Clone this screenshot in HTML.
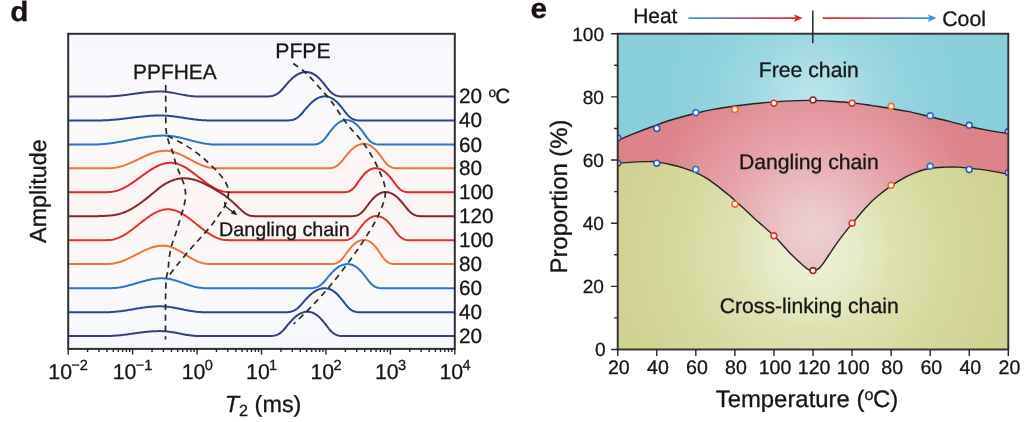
<!DOCTYPE html><html><head><meta charset="utf-8"><title>fig</title><style>html,body{margin:0;padding:0;background:#fff;overflow:hidden}svg{display:block;will-change:transform;opacity:0.999}text{font-family:"Liberation Sans",sans-serif;fill:#161616;stroke:#161616;stroke-width:0.3px;text-rendering:geometricPrecision}</style></head><body>
<svg width="1024" height="422" viewBox="0 0 1024 422">
<defs>
<linearGradient id="bgL" x1="0" y1="0" x2="0" y2="1">
<stop offset="0" stop-color="#f6f7fc"/><stop offset="0.15" stop-color="#f9f9fc"/><stop offset="0.3" stop-color="#faf8f9"/><stop offset="0.55" stop-color="#fcf4f3"/><stop offset="0.75" stop-color="#faf8f9"/><stop offset="0.9" stop-color="#f8f9fc"/><stop offset="1" stop-color="#f5f7fb"/>
</linearGradient>
<linearGradient id="hc1" gradientUnits="userSpaceOnUse" x1="688" y1="0" x2="802" y2="0"><stop offset="0" stop-color="#2f9be0"/><stop offset="0.4" stop-color="#7a6cb4"/><stop offset="0.75" stop-color="#dc3450"/><stop offset="1" stop-color="#e02a2c"/></linearGradient>
<linearGradient id="hc2" gradientUnits="userSpaceOnUse" x1="822" y1="0" x2="936" y2="0"><stop offset="0" stop-color="#e02a2c"/><stop offset="0.3" stop-color="#d83a58"/><stop offset="0.62" stop-color="#7a6cb4"/><stop offset="1" stop-color="#2f9be0"/></linearGradient>
<radialGradient id="gC" gradientUnits="userSpaceOnUse" cx="813" cy="104" r="200"><stop offset="0" stop-color="#bfe6ed"/><stop offset="0.15" stop-color="#b1e0e9"/><stop offset="0.32" stop-color="#9dd8e3"/><stop offset="0.52" stop-color="#90d2df"/><stop offset="0.75" stop-color="#8acfdc"/><stop offset="1" stop-color="#88cedb"/></radialGradient>
<radialGradient id="gP" gradientUnits="userSpaceOnUse" cx="813" cy="230" r="195"><stop offset="0" stop-color="#eecfd0"/><stop offset="0.12" stop-color="#ecc8ca"/><stop offset="0.45" stop-color="#e6a5ab"/><stop offset="0.85" stop-color="#dd858b"/><stop offset="1" stop-color="#dc8288"/></radialGradient>
<radialGradient id="gY" gradientUnits="userSpaceOnUse" cx="813" cy="252" r="200"><stop offset="0" stop-color="#eef1d9"/><stop offset="0.2" stop-color="#e8ecca"/><stop offset="0.4" stop-color="#dee2b1"/><stop offset="0.675" stop-color="#d6d99d"/><stop offset="0.95" stop-color="#d0d391"/><stop offset="1" stop-color="#cfd290"/></radialGradient>
<clipPath id="clipL"><rect x="68.2" y="33.8" width="386.6" height="315.1"/></clipPath>
<clipPath id="clipR"><rect x="617.7" y="33.7" width="390.6" height="315.8"/></clipPath>
</defs>
<rect x="68.2" y="33.8" width="386.6" height="315.1" fill="url(#bgL)"/>
<g clip-path="url(#clipL)" fill="none" stroke-width="2" stroke-linejoin="round">
<path d="M68.2 96.50 L90.7 96.49 L95.7 96.49 L99.5 96.48 L102.0 96.48 L104.5 96.47 L105.7 96.46 L107.0 96.44 L108.2 96.42 L109.5 96.38 L110.7 96.33 L112.0 96.26 L113.2 96.19 L114.5 96.11 L115.7 96.01 L117.0 95.91 L118.2 95.80 L119.5 95.68 L120.7 95.55 L122.0 95.41 L123.2 95.27 L124.5 95.11 L125.7 94.96 L127.0 94.79 L128.2 94.63 L129.4 94.46 L130.7 94.28 L131.9 94.11 L133.2 93.93 L134.4 93.76 L135.7 93.58 L136.9 93.41 L138.2 93.24 L139.4 93.07 L140.7 92.91 L141.9 92.75 L143.2 92.60 L144.4 92.45 L145.7 92.31 L146.9 92.19 L148.2 92.07 L149.4 91.96 L150.7 91.86 L151.9 91.77 L153.2 91.70 L154.4 91.63 L155.7 91.58 L156.9 91.54 L158.2 91.52 L159.4 91.50 L160.7 91.51 L161.9 91.54 L163.2 91.60 L164.4 91.68 L165.7 91.79 L166.9 91.92 L168.2 92.08 L169.4 92.25 L170.7 92.45 L171.9 92.66 L173.2 92.88 L174.4 93.12 L175.7 93.36 L176.9 93.61 L178.2 93.87 L179.4 94.12 L180.7 94.38 L181.9 94.62 L183.2 94.86 L184.4 95.09 L185.7 95.31 L186.9 95.51 L188.2 95.70 L189.4 95.87 L190.7 96.02 L191.9 96.15 L193.2 96.26 L194.4 96.35 L195.7 96.41 L196.9 96.45 L198.2 96.47 L199.4 96.47 L200.7 96.48 L203.2 96.49 L205.7 96.49 L210.7 96.50 L265.7 96.50 L266.9 96.49 L268.2 96.44 L269.4 96.35 L270.7 96.21 L271.9 95.99 L273.2 95.67 L274.4 95.25 L275.7 94.70 L276.9 94.01 L278.2 93.17 L279.4 92.16 L280.7 91.00 L281.9 89.70 L283.2 88.27 L284.4 86.79 L285.7 85.29 L286.9 83.85 L288.2 82.48 L289.4 81.16 L290.7 79.86 L291.9 78.64 L293.2 77.55 L294.4 76.56 L295.7 75.65 L296.9 74.83 L298.2 74.12 L299.4 73.52 L300.7 73.02 L301.9 72.63 L303.2 72.35 L304.4 72.15 L305.7 72.04 L306.9 72.05 L308.2 72.18 L309.4 72.42 L310.7 72.77 L311.9 73.24 L313.2 73.84 L314.4 74.57 L315.7 75.43 L316.9 76.40 L318.2 77.47 L319.4 78.66 L320.7 80.00 L321.9 81.41 L323.2 82.87 L324.4 84.39 L325.7 86.00 L326.9 87.63 L328.2 89.22 L329.4 90.69 L330.7 91.98 L331.9 93.10 L333.2 94.02 L334.4 94.76 L335.7 95.34 L336.9 95.78 L338.2 96.08 L339.4 96.28 L340.7 96.40 L341.9 96.47 L343.2 96.50 L454.8 96.50" stroke="#343f7a"/>
<path d="M68.2 120.50 L83.2 120.49 L88.2 120.49 L92.0 120.48 L94.5 120.48 L97.0 120.47 L98.2 120.47 L99.5 120.45 L100.7 120.44 L102.0 120.41 L103.2 120.37 L104.5 120.32 L105.7 120.27 L107.0 120.21 L108.2 120.14 L109.5 120.06 L110.7 119.97 L112.0 119.87 L113.2 119.77 L114.5 119.66 L115.7 119.55 L117.0 119.43 L118.2 119.30 L119.5 119.17 L120.7 119.03 L122.0 118.89 L123.2 118.74 L124.5 118.59 L125.7 118.44 L127.0 118.29 L128.2 118.13 L129.4 117.98 L130.7 117.82 L131.9 117.66 L133.2 117.51 L134.4 117.35 L135.7 117.20 L136.9 117.06 L138.2 116.91 L139.4 116.77 L140.7 116.63 L141.9 116.50 L143.2 116.38 L144.4 116.26 L145.7 116.15 L146.9 116.05 L148.2 115.95 L149.4 115.86 L150.7 115.78 L151.9 115.71 L153.2 115.65 L154.4 115.60 L155.7 115.56 L156.9 115.53 L158.2 115.51 L159.4 115.50 L160.7 115.51 L161.9 115.52 L163.2 115.56 L164.4 115.60 L165.7 115.67 L166.9 115.75 L168.2 115.84 L169.4 115.95 L170.7 116.06 L171.9 116.20 L173.2 116.34 L174.4 116.49 L175.7 116.65 L176.9 116.82 L178.2 117.00 L179.4 117.18 L180.7 117.37 L181.9 117.56 L183.2 117.75 L184.4 117.95 L185.7 118.14 L186.9 118.33 L188.2 118.52 L189.4 118.71 L190.7 118.89 L191.9 119.06 L193.2 119.23 L194.4 119.39 L195.7 119.54 L196.9 119.69 L198.2 119.82 L199.4 119.94 L200.7 120.05 L201.9 120.15 L203.2 120.23 L204.4 120.31 L205.7 120.37 L206.9 120.41 L208.2 120.44 L209.4 120.46 L210.7 120.47 L213.2 120.48 L215.7 120.48 L219.4 120.49 L225.7 120.50 L285.7 120.50 L286.9 120.49 L288.2 120.45 L289.4 120.37 L290.7 120.24 L291.9 120.03 L293.2 119.71 L294.4 119.28 L295.7 118.71 L296.9 118.00 L298.2 117.12 L299.4 116.06 L300.7 114.85 L301.9 113.47 L303.2 111.98 L304.4 110.44 L305.7 108.91 L306.9 107.45 L308.2 106.06 L309.4 104.71 L310.7 103.41 L311.9 102.22 L313.2 101.16 L314.4 100.20 L315.7 99.32 L316.9 98.56 L318.2 97.92 L319.4 97.38 L320.7 96.97 L321.9 96.66 L323.2 96.45 L324.4 96.34 L325.7 96.35 L326.9 96.50 L328.2 96.75 L329.4 97.12 L330.7 97.63 L331.9 98.27 L333.2 99.04 L334.4 99.95 L335.7 100.97 L336.9 102.09 L338.2 103.36 L339.4 104.76 L340.7 106.22 L341.9 107.73 L343.2 109.33 L344.4 110.99 L345.7 112.64 L346.9 114.19 L348.2 115.58 L349.4 116.79 L350.7 117.79 L351.9 118.60 L353.2 119.23 L354.4 119.71 L355.7 120.04 L356.9 120.26 L358.2 120.39 L359.4 120.47 L360.7 120.50 L454.8 120.50" stroke="#24479b"/>
<path d="M68.2 144.60 L75.7 144.59 L79.5 144.58 L83.2 144.58 L85.7 144.57 L88.2 144.56 L89.5 144.56 L90.7 144.55 L92.0 144.55 L93.2 144.54 L94.5 144.52 L95.7 144.50 L97.0 144.46 L98.2 144.40 L99.5 144.34 L100.7 144.27 L102.0 144.18 L103.2 144.08 L104.5 143.97 L105.7 143.85 L107.0 143.71 L108.2 143.57 L109.5 143.42 L110.7 143.25 L112.0 143.08 L113.2 142.90 L114.5 142.71 L115.7 142.51 L117.0 142.30 L118.2 142.09 L119.5 141.87 L120.7 141.65 L122.0 141.42 L123.2 141.18 L124.5 140.94 L125.7 140.70 L127.0 140.46 L128.2 140.22 L129.4 139.97 L130.7 139.72 L131.9 139.48 L133.2 139.24 L134.4 138.99 L135.7 138.76 L136.9 138.52 L138.2 138.29 L139.4 138.07 L140.7 137.85 L141.9 137.63 L143.2 137.43 L144.4 137.23 L145.7 137.04 L146.9 136.86 L148.2 136.69 L149.4 136.53 L150.7 136.39 L151.9 136.25 L153.2 136.12 L154.4 136.01 L155.7 135.91 L156.9 135.83 L158.2 135.76 L159.4 135.70 L160.7 135.65 L161.9 135.62 L163.2 135.61 L164.4 135.61 L165.7 135.63 L166.9 135.68 L168.2 135.75 L169.4 135.86 L170.7 135.98 L171.9 136.13 L173.2 136.31 L174.4 136.50 L175.7 136.72 L176.9 136.95 L178.2 137.21 L179.4 137.48 L180.7 137.76 L181.9 138.06 L183.2 138.37 L184.4 138.69 L185.7 139.01 L186.9 139.34 L188.2 139.67 L189.4 140.01 L190.7 140.34 L191.9 140.68 L193.2 141.00 L194.4 141.33 L195.7 141.64 L196.9 141.95 L198.2 142.24 L199.4 142.52 L200.7 142.79 L201.9 143.04 L203.2 143.28 L204.4 143.50 L205.7 143.70 L206.9 143.88 L208.2 144.04 L209.4 144.18 L210.7 144.29 L211.9 144.39 L213.2 144.46 L214.4 144.51 L215.7 144.53 L216.9 144.55 L218.2 144.55 L219.4 144.56 L220.7 144.57 L221.9 144.57 L224.4 144.58 L226.9 144.59 L230.7 144.59 L236.9 144.60 L311.9 144.60 L313.2 144.57 L314.4 144.48 L315.7 144.33 L316.9 144.09 L318.2 143.72 L319.4 143.19 L320.7 142.48 L321.9 141.58 L323.2 140.46 L324.4 139.14 L325.7 137.61 L326.9 135.93 L328.2 134.18 L329.4 132.47 L330.7 130.84 L331.9 129.28 L333.2 127.78 L334.4 126.38 L335.7 125.15 L336.9 124.04 L338.2 123.05 L339.4 122.19 L340.7 121.49 L341.9 120.93 L343.2 120.52 L344.4 120.23 L345.7 120.06 L346.9 120.04 L348.2 120.18 L349.4 120.44 L350.7 120.82 L351.9 121.36 L353.2 122.05 L354.4 122.89 L355.7 123.88 L356.9 124.98 L358.2 126.22 L359.4 127.62 L360.7 129.15 L361.9 130.72 L363.2 132.37 L364.4 134.11 L365.7 135.89 L366.9 137.60 L368.2 139.15 L369.4 140.50 L370.7 141.63 L371.9 142.53 L373.2 143.23 L374.4 143.76 L375.7 144.12 L376.9 144.36 L378.2 144.50 L379.4 144.57 L380.7 144.60 L454.8 144.60" stroke="#2b76c0"/>
<path d="M68.2 168.30 L87.0 168.29 L92.0 168.29 L94.5 168.28 L97.0 168.28 L98.2 168.27 L99.5 168.27 L100.7 168.26 L102.0 168.25 L103.2 168.24 L104.5 168.24 L105.7 168.23 L107.0 168.21 L108.2 168.20 L109.5 168.18 L110.7 168.14 L112.0 168.07 L113.2 167.96 L114.5 167.81 L115.7 167.63 L117.0 167.40 L118.2 167.14 L119.5 166.85 L120.7 166.52 L122.0 166.16 L123.2 165.76 L124.5 165.34 L125.7 164.89 L127.0 164.41 L128.2 163.91 L129.4 163.39 L130.7 162.84 L131.9 162.28 L133.2 161.71 L134.4 161.12 L135.7 160.53 L136.9 159.93 L138.2 159.32 L139.4 158.72 L140.7 158.11 L141.9 157.52 L143.2 156.93 L144.4 156.35 L145.7 155.79 L146.9 155.24 L148.2 154.72 L149.4 154.22 L150.7 153.74 L151.9 153.29 L153.2 152.87 L154.4 152.49 L155.7 152.14 L156.9 151.83 L158.2 151.56 L159.4 151.33 L160.7 151.14 L161.9 150.99 L163.2 150.88 L164.4 150.82 L165.7 150.81 L166.9 150.85 L168.2 150.94 L169.4 151.09 L170.7 151.29 L171.9 151.54 L173.2 151.85 L174.4 152.20 L175.7 152.60 L176.9 153.05 L178.2 153.53 L179.4 154.05 L180.7 154.61 L181.9 155.19 L183.2 155.80 L184.4 156.43 L185.7 157.08 L186.9 157.74 L188.2 158.41 L189.4 159.09 L190.7 159.77 L191.9 160.44 L193.2 161.11 L194.4 161.77 L195.7 162.41 L196.9 163.03 L198.2 163.63 L199.4 164.20 L200.7 164.75 L201.9 165.26 L203.2 165.74 L204.4 166.18 L205.7 166.58 L206.9 166.94 L208.2 167.25 L209.4 167.53 L210.7 167.75 L211.9 167.93 L213.2 168.06 L214.4 168.14 L215.7 168.18 L216.9 168.20 L218.2 168.22 L219.4 168.23 L220.7 168.24 L221.9 168.25 L223.2 168.26 L224.4 168.27 L225.7 168.27 L228.2 168.28 L230.7 168.29 L234.4 168.29 L241.9 168.30 L326.9 168.30 L328.2 168.27 L329.4 168.21 L330.7 168.09 L331.9 167.89 L333.2 167.59 L334.4 167.17 L335.7 166.60 L336.9 165.87 L338.2 164.96 L339.4 163.85 L340.7 162.57 L341.9 161.12 L343.2 159.54 L344.4 157.91 L345.7 156.31 L346.9 154.78 L348.2 153.33 L349.4 151.91 L350.7 150.57 L351.9 149.37 L353.2 148.30 L354.4 147.32 L355.7 146.45 L356.9 145.71 L358.2 145.10 L359.4 144.61 L360.7 144.25 L361.9 144.00 L363.2 143.86 L364.4 143.84 L365.7 143.98 L366.9 144.23 L368.2 144.62 L369.4 145.16 L370.7 145.84 L371.9 146.68 L373.2 147.66 L374.4 148.76 L375.7 150.00 L376.9 151.39 L378.2 152.91 L379.4 154.48 L380.7 156.12 L381.9 157.86 L383.2 159.62 L384.4 161.33 L385.7 162.87 L386.9 164.21 L388.2 165.34 L389.4 166.24 L390.7 166.94 L391.9 167.46 L393.2 167.82 L394.4 168.06 L395.7 168.20 L396.9 168.27 L398.2 168.30 L454.8 168.30" stroke="#f3713a"/>
<path d="M68.2 192.30 L80.7 192.29 L85.7 192.29 L88.2 192.28 L90.7 192.27 L92.0 192.27 L93.2 192.27 L94.5 192.26 L95.7 192.25 L97.0 192.25 L98.2 192.24 L99.5 192.23 L100.7 192.22 L102.0 192.20 L103.2 192.19 L104.5 192.17 L105.7 192.15 L107.0 192.13 L108.2 192.11 L109.5 192.06 L110.7 191.97 L112.0 191.83 L113.2 191.63 L114.5 191.38 L115.7 191.08 L117.0 190.73 L118.2 190.33 L119.5 189.88 L120.7 189.38 L122.0 188.84 L123.2 188.25 L124.5 187.63 L125.7 186.96 L127.0 186.26 L128.2 185.52 L129.4 184.74 L130.7 183.94 L131.9 183.12 L133.2 182.27 L134.4 181.39 L135.7 180.51 L136.9 179.60 L138.2 178.69 L139.4 177.77 L140.7 176.85 L141.9 175.93 L143.2 175.01 L144.4 174.10 L145.7 173.21 L146.9 172.33 L148.2 171.46 L149.4 170.62 L150.7 169.81 L151.9 169.03 L153.2 168.28 L154.4 167.57 L155.7 166.89 L156.9 166.26 L158.2 165.68 L159.4 165.14 L160.7 164.66 L161.9 164.22 L163.2 163.85 L164.4 163.52 L165.7 163.26 L166.9 163.06 L168.2 162.91 L169.4 162.83 L170.7 162.81 L171.9 162.86 L173.2 162.98 L174.4 163.16 L175.7 163.42 L176.9 163.74 L178.2 164.12 L179.4 164.57 L180.7 165.08 L181.9 165.65 L183.2 166.28 L184.4 166.95 L185.7 167.68 L186.9 168.45 L188.2 169.26 L189.4 170.11 L190.7 170.99 L191.9 171.90 L193.2 172.83 L194.4 173.78 L195.7 174.75 L196.9 175.73 L198.2 176.71 L199.4 177.70 L200.7 178.68 L201.9 179.65 L203.2 180.62 L204.4 181.56 L205.7 182.49 L206.9 183.39 L208.2 184.27 L209.4 185.11 L210.7 185.92 L211.9 186.69 L213.2 187.41 L214.4 188.10 L215.7 188.73 L216.9 189.32 L218.2 189.85 L219.4 190.34 L220.7 190.76 L221.9 191.13 L223.2 191.44 L224.4 191.69 L225.7 191.88 L226.9 192.02 L228.2 192.09 L229.4 192.12 L230.7 192.15 L231.9 192.17 L233.2 192.18 L234.4 192.20 L235.7 192.21 L236.9 192.23 L238.2 192.24 L239.4 192.25 L240.7 192.25 L241.9 192.26 L243.2 192.27 L244.4 192.27 L246.9 192.28 L249.4 192.29 L253.2 192.29 L260.7 192.30 L341.9 192.30 L343.2 192.29 L344.4 192.24 L345.7 192.12 L346.9 191.92 L348.2 191.60 L349.4 191.11 L350.7 190.45 L351.9 189.58 L353.2 188.47 L354.4 187.14 L355.7 185.58 L356.9 183.86 L358.2 182.05 L359.4 180.28 L360.7 178.60 L361.9 177.00 L363.2 175.46 L364.4 174.05 L365.7 172.82 L366.9 171.71 L368.2 170.73 L369.4 169.92 L370.7 169.27 L371.9 168.77 L373.2 168.42 L374.4 168.20 L375.7 168.13 L376.9 168.22 L378.2 168.44 L379.4 168.77 L380.7 169.24 L381.9 169.86 L383.2 170.61 L384.4 171.51 L385.7 172.54 L386.9 173.68 L388.2 174.96 L389.4 176.40 L390.7 177.90 L391.9 179.45 L393.2 181.10 L394.4 182.81 L395.7 184.51 L396.9 186.11 L398.2 187.52 L399.4 188.74 L400.7 189.75 L401.9 190.54 L403.2 191.16 L404.4 191.61 L405.7 191.92 L406.9 192.11 L408.2 192.23 L409.4 192.29 L410.7 192.30 L454.8 192.30" stroke="#e1272b"/>
<path d="M68.2 216.20 L75.7 216.21 L90.7 216.20 L93.2 216.19 L94.5 216.18 L95.7 216.17 L97.0 216.16 L98.2 216.14 L99.5 216.11 L100.7 216.08 L102.0 216.04 L103.2 215.99 L104.5 215.93 L105.7 215.86 L107.0 215.78 L108.2 215.68 L109.5 215.58 L110.7 215.46 L112.0 215.33 L113.2 215.18 L114.5 215.00 L115.7 214.77 L117.0 214.52 L118.2 214.23 L119.5 213.92 L120.7 213.56 L122.0 213.16 L123.2 212.72 L124.5 212.24 L125.7 211.72 L127.0 211.17 L128.2 210.58 L129.4 209.97 L130.7 209.32 L131.9 208.63 L133.2 207.90 L134.4 207.14 L135.7 206.33 L136.9 205.50 L138.2 204.65 L139.4 203.78 L140.7 202.89 L141.9 201.98 L143.2 201.04 L144.4 200.09 L145.7 199.12 L146.9 198.14 L148.2 197.14 L149.4 196.11 L150.7 195.07 L151.9 194.02 L153.2 192.98 L154.4 191.95 L155.7 190.93 L156.9 189.91 L158.2 188.89 L159.4 187.88 L160.7 186.91 L161.9 185.97 L163.2 185.11 L164.4 184.32 L165.7 183.60 L166.9 182.93 L168.2 182.31 L169.4 181.72 L170.7 181.18 L171.9 180.68 L173.2 180.21 L174.4 179.78 L175.7 179.38 L176.9 179.05 L178.2 178.77 L179.4 178.55 L180.7 178.38 L181.9 178.26 L183.2 178.21 L184.4 178.21 L185.7 178.27 L186.9 178.38 L188.2 178.53 L189.4 178.70 L190.7 178.90 L191.9 179.13 L193.2 179.42 L194.4 179.77 L195.7 180.16 L196.9 180.59 L198.2 181.06 L199.4 181.56 L200.7 182.08 L201.9 182.62 L203.2 183.18 L204.4 183.77 L205.7 184.37 L206.9 184.99 L208.2 185.63 L209.4 186.28 L210.7 186.95 L211.9 187.64 L213.2 188.35 L214.4 189.08 L215.7 189.82 L216.9 190.57 L218.2 191.32 L219.4 192.08 L220.7 192.85 L221.9 193.63 L223.2 194.44 L224.4 195.28 L225.7 196.17 L226.9 197.12 L228.2 198.12 L229.4 199.17 L230.7 200.24 L231.9 201.35 L233.2 202.48 L234.4 203.64 L235.7 204.82 L236.9 205.99 L238.2 207.18 L239.4 208.39 L240.7 209.59 L241.9 210.74 L243.2 211.82 L244.4 212.81 L245.7 213.71 L246.9 214.46 L248.2 215.06 L249.4 215.49 L250.7 215.79 L251.9 215.98 L253.2 216.10 L254.4 216.17 L255.7 216.19 L256.9 216.20 L260.7 216.21 L266.9 216.21 L284.4 216.21 L291.9 216.20 L350.7 216.20 L351.9 216.18 L353.2 216.10 L354.4 215.97 L355.7 215.75 L356.9 215.41 L358.2 214.92 L359.4 214.26 L360.7 213.41 L361.9 212.35 L363.2 211.07 L364.4 209.60 L365.7 207.96 L366.9 206.24 L368.2 204.54 L369.4 202.91 L370.7 201.37 L371.9 199.88 L373.2 198.48 L374.4 197.23 L375.7 196.13 L376.9 195.13 L378.2 194.27 L379.4 193.55 L380.7 192.98 L381.9 192.55 L383.2 192.26 L384.4 192.07 L385.7 192.03 L386.9 192.13 L388.2 192.34 L389.4 192.65 L390.7 193.08 L391.9 193.63 L393.2 194.31 L394.4 195.12 L395.7 196.04 L396.9 197.07 L398.2 198.20 L399.4 199.47 L400.7 200.85 L401.9 202.27 L403.2 203.74 L404.4 205.30 L405.7 206.91 L406.9 208.49 L408.2 209.99 L409.4 211.32 L410.7 212.49 L411.9 213.46 L413.2 214.25 L414.4 214.87 L415.7 215.35 L416.9 215.69 L418.2 215.92 L419.4 216.07 L420.7 216.15 L421.9 216.19 L423.2 216.20 L454.8 216.20" stroke="#86282b"/>
<path d="M68.2 240.30 L80.7 240.29 L85.7 240.29 L88.2 240.28 L90.7 240.27 L92.0 240.27 L93.2 240.26 L94.5 240.26 L95.7 240.25 L97.0 240.24 L98.2 240.23 L99.5 240.22 L100.7 240.21 L102.0 240.19 L103.2 240.18 L104.5 240.16 L105.7 240.14 L107.0 240.12 L108.2 240.08 L109.5 240.01 L110.7 239.89 L112.0 239.70 L113.2 239.46 L114.5 239.16 L115.7 238.80 L117.0 238.39 L118.2 237.92 L119.5 237.39 L120.7 236.82 L122.0 236.19 L123.2 235.52 L124.5 234.80 L125.7 234.04 L127.0 233.25 L128.2 232.41 L129.4 231.54 L130.7 230.64 L131.9 229.72 L133.2 228.77 L134.4 227.81 L135.7 226.83 L136.9 225.83 L138.2 224.84 L139.4 223.83 L140.7 222.83 L141.9 221.84 L143.2 220.86 L144.4 219.89 L145.7 218.94 L146.9 218.01 L148.2 217.12 L149.4 216.25 L150.7 215.42 L151.9 214.62 L153.2 213.88 L154.4 213.17 L155.7 212.52 L156.9 211.92 L158.2 211.38 L159.4 210.90 L160.7 210.47 L161.9 210.11 L163.2 209.82 L164.4 209.59 L165.7 209.43 L166.9 209.34 L168.2 209.31 L169.4 209.36 L170.7 209.48 L171.9 209.67 L173.2 209.93 L174.4 210.25 L175.7 210.64 L176.9 211.10 L178.2 211.62 L179.4 212.20 L180.7 212.84 L181.9 213.52 L183.2 214.26 L184.4 215.05 L185.7 215.88 L186.9 216.74 L188.2 217.65 L189.4 218.58 L190.7 219.53 L191.9 220.51 L193.2 221.51 L194.4 222.51 L195.7 223.53 L196.9 224.55 L198.2 225.56 L199.4 226.58 L200.7 227.58 L201.9 228.56 L203.2 229.53 L204.4 230.47 L205.7 231.39 L206.9 232.28 L208.2 233.14 L209.4 233.95 L210.7 234.73 L211.9 235.46 L213.2 236.15 L214.4 236.79 L215.7 237.37 L216.9 237.91 L218.2 238.39 L219.4 238.81 L220.7 239.17 L221.9 239.47 L223.2 239.72 L224.4 239.90 L225.7 240.02 L226.9 240.09 L228.2 240.12 L229.4 240.14 L230.7 240.16 L231.9 240.18 L233.2 240.20 L234.4 240.21 L235.7 240.22 L236.9 240.23 L238.2 240.24 L239.4 240.25 L240.7 240.26 L241.9 240.27 L243.2 240.27 L245.7 240.28 L248.2 240.29 L251.9 240.29 L258.2 240.30 L341.9 240.30 L343.2 240.29 L344.4 240.23 L345.7 240.12 L346.9 239.92 L348.2 239.61 L349.4 239.15 L350.7 238.52 L351.9 237.71 L353.2 236.67 L354.4 235.42 L355.7 233.96 L356.9 232.31 L358.2 230.57 L359.4 228.83 L360.7 227.17 L361.9 225.59 L363.2 224.06 L364.4 222.62 L365.7 221.35 L366.9 220.21 L368.2 219.19 L369.4 218.30 L370.7 217.58 L371.9 216.99 L373.2 216.55 L374.4 216.25 L375.7 216.07 L376.9 216.04 L378.2 216.16 L379.4 216.41 L380.7 216.78 L381.9 217.30 L383.2 217.97 L384.4 218.78 L385.7 219.75 L386.9 220.83 L388.2 222.04 L389.4 223.41 L390.7 224.91 L391.9 226.46 L393.2 228.09 L394.4 229.80 L395.7 231.55 L396.9 233.25 L398.2 234.80 L399.4 236.15 L400.7 237.28 L401.9 238.19 L403.2 238.90 L404.4 239.43 L405.7 239.80 L406.9 240.04 L408.2 240.19 L409.4 240.27 L410.7 240.30 L454.8 240.30" stroke="#e3332d"/>
<path d="M68.2 264.10 L85.7 264.09 L90.7 264.09 L93.2 264.08 L95.7 264.07 L97.0 264.07 L98.2 264.06 L99.5 264.06 L100.7 264.05 L102.0 264.04 L103.2 264.03 L104.5 264.02 L105.7 264.01 L107.0 263.99 L108.2 263.97 L109.5 263.92 L110.7 263.83 L112.0 263.71 L113.2 263.53 L114.5 263.32 L115.7 263.07 L117.0 262.78 L118.2 262.45 L119.5 262.08 L120.7 261.68 L122.0 261.24 L123.2 260.77 L124.5 260.27 L125.7 259.75 L127.0 259.20 L128.2 258.62 L129.4 258.03 L130.7 257.42 L131.9 256.79 L133.2 256.16 L134.4 255.51 L135.7 254.86 L136.9 254.21 L138.2 253.56 L139.4 252.92 L140.7 252.28 L141.9 251.65 L143.2 251.04 L144.4 250.45 L145.7 249.88 L146.9 249.33 L148.2 248.81 L149.4 248.33 L150.7 247.87 L151.9 247.45 L153.2 247.07 L154.4 246.73 L155.7 246.43 L156.9 246.18 L158.2 245.97 L159.4 245.81 L160.7 245.69 L161.9 245.63 L163.2 245.61 L164.4 245.66 L165.7 245.78 L166.9 245.96 L168.2 246.21 L169.4 246.53 L170.7 246.91 L171.9 247.34 L173.2 247.84 L174.4 248.38 L175.7 248.97 L176.9 249.61 L178.2 250.28 L179.4 250.98 L180.7 251.71 L181.9 252.46 L183.2 253.23 L184.4 254.00 L185.7 254.78 L186.9 255.56 L188.2 256.33 L189.4 257.08 L190.7 257.82 L191.9 258.54 L193.2 259.22 L194.4 259.88 L195.7 260.49 L196.9 261.07 L198.2 261.60 L199.4 262.09 L200.7 262.52 L201.9 262.90 L203.2 263.23 L204.4 263.49 L205.7 263.70 L206.9 263.85 L208.2 263.94 L209.4 263.98 L210.7 264.00 L211.9 264.02 L213.2 264.03 L214.4 264.04 L215.7 264.05 L216.9 264.06 L218.2 264.07 L219.4 264.07 L221.9 264.08 L224.4 264.09 L228.2 264.09 L243.2 264.10 L329.4 264.10 L330.7 264.09 L331.9 264.03 L333.2 263.91 L334.4 263.71 L335.7 263.38 L336.9 262.91 L338.2 262.27 L339.4 261.44 L340.7 260.40 L341.9 259.13 L343.2 257.66 L344.4 256.01 L345.7 254.27 L346.9 252.54 L348.2 250.89 L349.4 249.33 L350.7 247.81 L351.9 246.39 L353.2 245.13 L354.4 244.01 L355.7 243.00 L356.9 242.13 L358.2 241.42 L359.4 240.84 L360.7 240.42 L361.9 240.13 L363.2 239.96 L364.4 239.95 L365.7 240.10 L366.9 240.40 L368.2 240.85 L369.4 241.47 L370.7 242.27 L371.9 243.24 L373.2 244.37 L374.4 245.64 L375.7 247.08 L376.9 248.69 L378.2 250.36 L379.4 252.12 L380.7 253.98 L381.9 255.86 L383.2 257.64 L384.4 259.23 L385.7 260.57 L386.9 261.66 L388.2 262.50 L389.4 263.12 L390.7 263.56 L391.9 263.83 L393.2 263.99 L394.4 264.07 L395.7 264.10 L454.8 264.10" stroke="#f3713a"/>
<path d="M68.2 288.30 L92.0 288.29 L97.0 288.29 L99.5 288.28 L102.0 288.28 L103.2 288.27 L104.5 288.27 L105.7 288.26 L107.0 288.25 L108.2 288.25 L109.5 288.24 L110.7 288.22 L112.0 288.18 L113.2 288.12 L114.5 288.03 L115.7 287.92 L117.0 287.78 L118.2 287.62 L119.5 287.44 L120.7 287.23 L122.0 287.00 L123.2 286.75 L124.5 286.48 L125.7 286.20 L127.0 285.89 L128.2 285.58 L129.4 285.25 L130.7 284.90 L131.9 284.55 L133.2 284.19 L134.4 283.82 L135.7 283.45 L136.9 283.08 L138.2 282.71 L139.4 282.34 L140.7 281.97 L141.9 281.61 L143.2 281.26 L144.4 280.92 L145.7 280.60 L146.9 280.29 L148.2 279.99 L149.4 279.72 L150.7 279.46 L151.9 279.23 L153.2 279.02 L154.4 278.83 L155.7 278.68 L156.9 278.54 L158.2 278.44 L159.4 278.37 L160.7 278.32 L161.9 278.31 L163.2 278.33 L164.4 278.39 L165.7 278.49 L166.9 278.63 L168.2 278.81 L169.4 279.02 L170.7 279.27 L171.9 279.56 L173.2 279.87 L174.4 280.21 L175.7 280.57 L176.9 280.96 L178.2 281.36 L179.4 281.78 L180.7 282.21 L181.9 282.64 L183.2 283.08 L184.4 283.52 L185.7 283.96 L186.9 284.39 L188.2 284.81 L189.4 285.22 L190.7 285.61 L191.9 285.98 L193.2 286.33 L194.4 286.66 L195.7 286.96 L196.9 287.23 L198.2 287.47 L199.4 287.68 L200.7 287.86 L201.9 288.00 L203.2 288.11 L204.4 288.19 L205.7 288.23 L206.9 288.24 L208.2 288.25 L209.4 288.26 L210.7 288.27 L211.9 288.27 L214.4 288.28 L216.9 288.29 L220.7 288.29 L230.7 288.30 L309.4 288.30 L310.7 288.26 L311.9 288.19 L313.2 288.06 L314.4 287.86 L315.7 287.57 L316.9 287.15 L318.2 286.61 L319.4 285.91 L320.7 285.06 L321.9 284.02 L323.2 282.83 L324.4 281.47 L325.7 279.99 L326.9 278.45 L328.2 276.90 L329.4 275.42 L330.7 274.02 L331.9 272.66 L333.2 271.34 L334.4 270.13 L335.7 269.05 L336.9 268.06 L338.2 267.17 L339.4 266.38 L340.7 265.72 L341.9 265.17 L343.2 264.73 L344.4 264.41 L345.7 264.18 L346.9 264.05 L348.2 264.04 L349.4 264.17 L350.7 264.41 L351.9 264.77 L353.2 265.26 L354.4 265.89 L355.7 266.65 L356.9 267.55 L358.2 268.57 L359.4 269.70 L360.7 270.97 L361.9 272.37 L363.2 273.84 L364.4 275.36 L365.7 276.97 L366.9 278.64 L368.2 280.31 L369.4 281.89 L370.7 283.30 L371.9 284.53 L373.2 285.55 L374.4 286.37 L375.7 287.02 L376.9 287.50 L378.2 287.84 L379.4 288.06 L380.7 288.19 L381.9 288.27 L383.2 288.30 L454.8 288.30" stroke="#2b76c0"/>
<path d="M68.2 312.30 L89.5 312.29 L94.5 312.29 L98.2 312.28 L100.7 312.28 L103.2 312.27 L104.5 312.26 L105.7 312.25 L107.0 312.23 L108.2 312.20 L109.5 312.15 L110.7 312.09 L112.0 312.02 L113.2 311.93 L114.5 311.83 L115.7 311.72 L117.0 311.59 L118.2 311.46 L119.5 311.31 L120.7 311.16 L122.0 310.99 L123.2 310.82 L124.5 310.64 L125.7 310.45 L127.0 310.25 L128.2 310.05 L129.4 309.85 L130.7 309.64 L131.9 309.43 L133.2 309.22 L134.4 309.01 L135.7 308.80 L136.9 308.59 L138.2 308.38 L139.4 308.18 L140.7 307.99 L141.9 307.80 L143.2 307.62 L144.4 307.44 L145.7 307.28 L146.9 307.12 L148.2 306.98 L149.4 306.85 L150.7 306.73 L151.9 306.63 L153.2 306.53 L154.4 306.46 L155.7 306.40 L156.9 306.35 L158.2 306.32 L159.4 306.30 L160.7 306.31 L161.9 306.33 L163.2 306.38 L164.4 306.45 L165.7 306.55 L166.9 306.66 L168.2 306.80 L169.4 306.95 L170.7 307.13 L171.9 307.32 L173.2 307.52 L174.4 307.74 L175.7 307.97 L176.9 308.21 L178.2 308.46 L179.4 308.71 L180.7 308.97 L181.9 309.22 L183.2 309.48 L184.4 309.74 L185.7 309.99 L186.9 310.23 L188.2 310.47 L189.4 310.70 L190.7 310.92 L191.9 311.12 L193.2 311.32 L194.4 311.49 L195.7 311.65 L196.9 311.80 L198.2 311.92 L199.4 312.03 L200.7 312.11 L201.9 312.18 L203.2 312.23 L204.4 312.25 L205.7 312.26 L206.9 312.27 L208.2 312.27 L210.7 312.28 L213.2 312.29 L216.9 312.29 L226.9 312.30 L284.4 312.30 L285.7 312.27 L286.9 312.20 L288.2 312.09 L289.4 311.93 L290.7 311.68 L291.9 311.33 L293.2 310.87 L294.4 310.29 L295.7 309.57 L296.9 308.69 L298.2 307.66 L299.4 306.50 L300.7 305.19 L301.9 303.78 L303.2 302.33 L304.4 300.89 L305.7 299.50 L306.9 298.19 L308.2 296.92 L309.4 295.67 L310.7 294.51 L311.9 293.47 L313.2 292.53 L314.4 291.66 L315.7 290.88 L316.9 290.21 L318.2 289.64 L319.4 289.16 L320.7 288.80 L321.9 288.53 L323.2 288.34 L324.4 288.23 L325.7 288.25 L326.9 288.40 L328.2 288.65 L329.4 289.02 L330.7 289.52 L331.9 290.16 L333.2 290.93 L334.4 291.83 L335.7 292.85 L336.9 293.97 L338.2 295.23 L339.4 296.63 L340.7 298.08 L341.9 299.58 L343.2 301.17 L344.4 302.83 L345.7 304.47 L346.9 306.02 L348.2 307.40 L349.4 308.60 L350.7 309.60 L351.9 310.41 L353.2 311.04 L354.4 311.51 L355.7 311.84 L356.9 312.06 L358.2 312.19 L359.4 312.27 L360.7 312.30 L454.8 312.30" stroke="#24479b"/>
<path d="M68.2 336.10 L90.7 336.09 L95.7 336.09 L99.5 336.08 L102.0 336.08 L104.5 336.07 L105.7 336.06 L107.0 336.04 L108.2 336.02 L109.5 335.98 L110.7 335.93 L112.0 335.86 L113.2 335.79 L114.5 335.71 L115.7 335.61 L117.0 335.51 L118.2 335.40 L119.5 335.28 L120.7 335.15 L122.0 335.01 L123.2 334.87 L124.5 334.71 L125.7 334.56 L127.0 334.39 L128.2 334.23 L129.4 334.06 L130.7 333.88 L131.9 333.71 L133.2 333.53 L134.4 333.36 L135.7 333.18 L136.9 333.01 L138.2 332.84 L139.4 332.67 L140.7 332.51 L141.9 332.35 L143.2 332.20 L144.4 332.05 L145.7 331.91 L146.9 331.79 L148.2 331.67 L149.4 331.56 L150.7 331.46 L151.9 331.37 L153.2 331.30 L154.4 331.23 L155.7 331.18 L156.9 331.14 L158.2 331.12 L159.4 331.10 L160.7 331.11 L161.9 331.13 L163.2 331.19 L164.4 331.26 L165.7 331.36 L166.9 331.48 L168.2 331.62 L169.4 331.78 L170.7 331.96 L171.9 332.15 L173.2 332.36 L174.4 332.58 L175.7 332.81 L176.9 333.04 L178.2 333.28 L179.4 333.52 L180.7 333.77 L181.9 334.01 L183.2 334.24 L184.4 334.47 L185.7 334.69 L186.9 334.89 L188.2 335.09 L189.4 335.27 L190.7 335.44 L191.9 335.58 L193.2 335.71 L194.4 335.82 L195.7 335.91 L196.9 335.98 L198.2 336.03 L199.4 336.06 L200.7 336.07 L201.9 336.08 L204.4 336.08 L206.9 336.09 L210.7 336.10 L268.2 336.10 L269.4 336.09 L270.7 336.05 L271.9 335.97 L273.2 335.83 L274.4 335.62 L275.7 335.31 L276.9 334.87 L278.2 334.30 L279.4 333.58 L280.7 332.69 L281.9 331.62 L283.2 330.40 L284.4 329.01 L285.7 327.51 L286.9 325.96 L288.2 324.41 L289.4 322.94 L290.7 321.54 L291.9 320.18 L293.2 318.87 L294.4 317.67 L295.7 316.60 L296.9 315.63 L298.2 314.75 L299.4 313.98 L300.7 313.33 L301.9 312.79 L303.2 312.37 L304.4 312.07 L305.7 311.85 L306.9 311.74 L308.2 311.75 L309.4 311.89 L310.7 312.14 L311.9 312.50 L313.2 313.00 L314.4 313.62 L315.7 314.37 L316.9 315.26 L318.2 316.26 L319.4 317.36 L320.7 318.60 L321.9 319.97 L323.2 321.41 L324.4 322.90 L325.7 324.46 L326.9 326.10 L328.2 327.75 L329.4 329.32 L330.7 330.75 L331.9 332.01 L333.2 333.07 L334.4 333.93 L335.7 334.62 L336.9 335.14 L338.2 335.52 L339.4 335.78 L340.7 335.94 L341.9 336.04 L343.2 336.09 L344.4 336.10 L454.8 336.10" stroke="#343f7a"/>
</g>
<g fill="none" stroke="#2a2a2a" stroke-width="1.7" stroke-dasharray="6 4.7">
<path d="M165.70 85.00 C165.72 89.17 165.73 102.50 165.80 110.00 C165.87 117.50 165.62 124.67 166.10 130.00 C166.58 135.33 167.55 138.17 168.70 142.00 C169.85 145.83 171.87 149.58 173.00 153.00 C174.13 156.42 174.30 158.83 175.50 162.50 C176.70 166.17 178.75 171.25 180.20 175.00 C181.65 178.75 183.30 181.67 184.20 185.00 C185.10 188.33 185.60 191.67 185.60 195.00 C185.60 198.33 185.05 201.20 184.20 205.00 C183.35 208.80 181.83 213.30 180.50 217.80 C179.17 222.30 177.67 227.40 176.20 232.00 C174.73 236.60 172.87 241.07 171.70 245.40 C170.53 249.73 169.82 253.90 169.20 258.00 C168.58 262.10 168.50 266.50 168.00 270.00 C167.50 273.50 166.58 275.17 166.20 279.00 C165.82 282.83 165.82 288.20 165.70 293.00 C165.58 297.80 165.53 300.03 165.50 307.80 C165.47 315.57 165.50 334.30 165.50 339.60"/>
<path d="M167.60 135.80 C170.73 137.47 180.75 142.33 186.40 145.80 C192.05 149.27 196.93 152.90 201.50 156.60 C206.07 160.30 210.25 164.43 213.80 168.00 C217.35 171.57 220.55 175.00 222.80 178.00 C225.05 181.00 226.33 183.50 227.30 186.00 C228.27 188.50 228.93 189.83 228.60 193.00 C228.27 196.17 226.93 201.33 225.30 205.00 C223.67 208.67 221.10 211.62 218.80 215.00 C216.50 218.38 214.50 221.55 211.50 225.30 C208.50 229.05 204.15 233.72 200.80 237.50 C197.45 241.28 195.07 243.75 191.40 248.00 C187.73 252.25 182.90 257.92 178.80 263.00 C174.70 268.08 168.80 275.92 166.80 278.50"/>
<path d="M293.30 63.50 C295.42 65.08 301.88 69.25 306.00 73.00 C310.12 76.75 313.73 81.20 318.00 86.00 C322.27 90.80 326.77 95.47 331.60 101.80 C336.43 108.13 341.60 116.97 347.00 124.00 C352.40 131.03 358.83 136.67 364.00 144.00 C369.17 151.33 374.43 160.00 378.00 168.00 C381.57 176.00 385.40 184.00 385.40 192.00 C385.40 200.00 381.57 208.00 378.00 216.00 C374.43 224.00 369.00 232.17 364.00 240.00 C359.00 247.83 353.67 255.33 348.00 263.00 C342.33 270.67 336.00 278.83 330.00 286.00 C324.00 293.17 318.05 299.67 312.00 306.00 C305.95 312.33 296.75 321.00 293.70 324.00"/>
</g>
<path d="M224.6 202 L225.2 206.2 L233.4 212.4" fill="none" stroke="#222" stroke-width="1.3"/>
<path d="M237.4 215.2 L230.9 213.6 L234 209.4 Z" fill="#222"/>
<rect x="68.2" y="33.8" width="386.6" height="315.1" fill="none" stroke="#303030" stroke-width="2"/>
<path d="M68.20 348.9 v5.6 M87.60 348.9 v3.2 M98.94 348.9 v3.2 M106.99 348.9 v3.2 M113.24 348.9 v3.2 M118.34 348.9 v3.2 M122.65 348.9 v3.2 M126.39 348.9 v3.2 M129.69 348.9 v3.2 M132.63 348.9 v5.6 M152.03 348.9 v3.2 M163.38 348.9 v3.2 M171.43 348.9 v3.2 M177.67 348.9 v3.2 M182.77 348.9 v3.2 M187.09 348.9 v3.2 M190.82 348.9 v3.2 M194.12 348.9 v3.2 M197.07 348.9 v5.6 M216.46 348.9 v3.2 M227.81 348.9 v3.2 M235.86 348.9 v3.2 M242.10 348.9 v3.2 M247.21 348.9 v3.2 M251.52 348.9 v3.2 M255.26 348.9 v3.2 M258.55 348.9 v3.2 M261.50 348.9 v5.6 M280.90 348.9 v3.2 M292.24 348.9 v3.2 M300.29 348.9 v3.2 M306.54 348.9 v3.2 M311.64 348.9 v3.2 M315.95 348.9 v3.2 M319.69 348.9 v3.2 M322.99 348.9 v3.2 M325.93 348.9 v5.6 M345.33 348.9 v3.2 M356.68 348.9 v3.2 M364.73 348.9 v3.2 M370.97 348.9 v3.2 M376.07 348.9 v3.2 M380.39 348.9 v3.2 M384.12 348.9 v3.2 M387.42 348.9 v3.2 M390.37 348.9 v5.6 M409.76 348.9 v3.2 M421.11 348.9 v3.2 M429.16 348.9 v3.2 M435.40 348.9 v3.2 M440.51 348.9 v3.2 M444.82 348.9 v3.2 M448.56 348.9 v3.2 M451.85 348.9 v3.2 M454.80 348.9 v5.6" stroke="#262626" stroke-width="1.4" fill="none"/>
<text x="48.3" y="378.7" font-size="21.3">10<tspan font-size="14.6" dy="-9.1" dx="-0.7">−2</tspan></text>
<text x="112.7" y="378.7" font-size="21.3">10<tspan font-size="14.6" dy="-9.1" dx="-0.7">−1</tspan></text>
<text x="181.7" y="378.7" font-size="21.3">10<tspan font-size="14.6" dy="-9.1" dx="-0.7">0</tspan></text>
<text x="246.1" y="378.7" font-size="21.3">10<tspan font-size="14.6" dy="-9.1" dx="-0.7">1</tspan></text>
<text x="310.5" y="378.7" font-size="21.3">10<tspan font-size="14.6" dy="-9.1" dx="-0.7">2</tspan></text>
<text x="375.0" y="378.7" font-size="21.3">10<tspan font-size="14.6" dy="-9.1" dx="-0.7">3</tspan></text>
<text x="439.4" y="378.7" font-size="21.3">10<tspan font-size="14.6" dy="-9.1" dx="-0.7">4</tspan></text>
<text x="224.8" y="411.8" font-size="23.4"><tspan font-style="italic">T</tspan><tspan font-size="16.2" dy="4.3">2</tspan><tspan dy="-4.3"> (ms)</tspan></text>
<text transform="translate(45.7,191.1) rotate(-90)" font-size="23.3" text-anchor="middle">Amplitude</text>
<text transform="translate(10.2,20.5) scale(1.07,1)" font-size="27.8" font-weight="bold" style="fill:#1a1212;stroke:#1a1212">d</text>
<text x="133.1" y="79" font-size="20.9">PPFHEA</text>
<text x="275.3" y="58.1" font-size="21.2">PFPE</text>
<text x="219" y="235.8" font-size="19.75">Dangling chain</text>
<text x="459" y="103.4" font-size="20.7">20</text>
<text x="459" y="127.4" font-size="20.7">40</text>
<text x="459" y="151.5" font-size="20.7">60</text>
<text x="459" y="175.2" font-size="20.7">80</text>
<text x="459" y="199.2" font-size="20.7">100</text>
<text x="459" y="223.1" font-size="20.7">120</text>
<text x="459" y="247.2" font-size="20.7">100</text>
<text x="459" y="271.0" font-size="20.7">80</text>
<text x="459" y="295.2" font-size="20.7">60</text>
<text x="459" y="319.2" font-size="20.7">40</text>
<text x="459" y="343.0" font-size="20.7">20</text>
<text x="488.4" y="97" font-size="13.6">o</text>
<text x="495.2" y="103.4" font-size="20.7">C</text>
<rect x="617.7" y="33.7" width="390.6" height="315.8" fill="url(#gC)"/>
<path d="M617.70 140.44 C620.17 139.39 626.03 136.70 632.54 134.12 C639.05 131.55 649.92 127.44 656.76 124.97 C663.60 122.49 667.05 121.23 673.56 119.28 C680.07 117.33 688.98 114.97 695.82 113.28 C702.66 111.60 708.06 110.39 714.57 109.18 C721.08 107.97 728.04 106.97 734.88 106.02 C741.72 105.07 749.07 104.18 755.58 103.49 C762.09 102.81 767.10 102.39 773.94 101.91 C780.78 101.44 790.08 100.90 796.59 100.65 C803.10 100.40 807.14 100.29 813.00 100.40 C818.86 100.50 825.24 100.87 831.75 101.28 C838.26 101.69 845.58 102.18 852.06 102.86 C858.54 103.54 864.10 104.44 870.61 105.39 C877.12 106.33 884.97 107.54 891.12 108.54 C897.27 109.54 901.02 110.02 907.53 111.39 C914.04 112.76 923.34 115.12 930.18 116.76 C937.02 118.39 942.03 119.54 948.54 121.18 C955.05 122.81 962.40 124.97 969.24 126.55 C976.08 128.12 983.04 129.49 989.55 130.65 C996.06 131.81 1005.18 133.02 1008.30 133.49 L1008.3 349.5 L617.7 349.5 Z" fill="url(#gP)"/>
<path d="M617.70 163.18 C620.69 162.97 630.72 162.18 635.67 161.91 C640.62 161.65 643.87 161.60 647.39 161.60 C650.90 161.60 652.79 161.39 656.76 161.91 C660.73 162.44 666.82 163.76 671.21 164.76 C675.60 165.76 678.99 166.60 683.09 167.91 C687.19 169.23 691.87 170.92 695.82 172.65 C699.77 174.39 702.95 175.97 706.76 178.34 C710.56 180.70 714.67 183.81 718.63 186.86 C722.59 189.92 727.80 194.39 730.51 196.65 C733.21 198.92 732.52 198.34 734.88 200.44 C737.24 202.55 741.39 206.28 744.64 209.28 C747.90 212.28 749.53 214.02 754.41 218.44 C759.29 222.86 768.15 230.18 773.94 235.81 C779.73 241.44 784.26 247.23 789.17 252.23 C794.08 257.23 800.07 262.87 803.39 265.81 C806.71 268.76 807.49 269.02 809.09 269.92 C810.70 270.81 811.34 271.44 813.00 271.18 C814.66 270.92 817.34 269.66 819.05 268.34 C820.77 267.02 821.65 265.55 823.31 263.29 C824.97 261.02 826.63 258.29 829.01 254.76 C831.40 251.23 834.78 246.08 837.61 242.13 C840.44 238.18 843.60 234.13 846.01 231.07 C848.41 228.02 848.87 227.60 852.06 223.81 C855.25 220.02 861.30 212.60 865.15 208.34 C868.99 204.07 870.78 201.97 875.11 198.23 C879.43 194.49 886.07 189.42 891.12 185.92 C896.17 182.42 901.38 179.44 905.42 177.23 C909.45 175.02 911.21 174.15 915.34 172.65 C919.46 171.15 925.10 169.15 930.18 168.23 C935.26 167.31 941.18 167.31 945.80 167.13 C950.43 166.94 954.01 166.94 957.91 167.13 C961.82 167.31 964.55 167.73 969.24 168.23 C973.93 168.73 979.53 169.13 986.04 170.13 C992.55 171.13 1004.59 173.55 1008.30 174.23 L1008.3 349.5 L617.7 349.5 Z" fill="url(#gY)"/>
<path d="M617.70 140.44 C620.17 139.39 626.03 136.70 632.54 134.12 C639.05 131.55 649.92 127.44 656.76 124.97 C663.60 122.49 667.05 121.23 673.56 119.28 C680.07 117.33 688.98 114.97 695.82 113.28 C702.66 111.60 708.06 110.39 714.57 109.18 C721.08 107.97 728.04 106.97 734.88 106.02 C741.72 105.07 749.07 104.18 755.58 103.49 C762.09 102.81 767.10 102.39 773.94 101.91 C780.78 101.44 790.08 100.90 796.59 100.65 C803.10 100.40 807.14 100.29 813.00 100.40 C818.86 100.50 825.24 100.87 831.75 101.28 C838.26 101.69 845.58 102.18 852.06 102.86 C858.54 103.54 864.10 104.44 870.61 105.39 C877.12 106.33 884.97 107.54 891.12 108.54 C897.27 109.54 901.02 110.02 907.53 111.39 C914.04 112.76 923.34 115.12 930.18 116.76 C937.02 118.39 942.03 119.54 948.54 121.18 C955.05 122.81 962.40 124.97 969.24 126.55 C976.08 128.12 983.04 129.49 989.55 130.65 C996.06 131.81 1005.18 133.02 1008.30 133.49" fill="none" stroke="#222" stroke-width="1.4"/>
<path d="M617.70 163.18 C620.69 162.97 630.72 162.18 635.67 161.91 C640.62 161.65 643.87 161.60 647.39 161.60 C650.90 161.60 652.79 161.39 656.76 161.91 C660.73 162.44 666.82 163.76 671.21 164.76 C675.60 165.76 678.99 166.60 683.09 167.91 C687.19 169.23 691.87 170.92 695.82 172.65 C699.77 174.39 702.95 175.97 706.76 178.34 C710.56 180.70 714.67 183.81 718.63 186.86 C722.59 189.92 727.80 194.39 730.51 196.65 C733.21 198.92 732.52 198.34 734.88 200.44 C737.24 202.55 741.39 206.28 744.64 209.28 C747.90 212.28 749.53 214.02 754.41 218.44 C759.29 222.86 768.15 230.18 773.94 235.81 C779.73 241.44 784.26 247.23 789.17 252.23 C794.08 257.23 800.07 262.87 803.39 265.81 C806.71 268.76 807.49 269.02 809.09 269.92 C810.70 270.81 811.34 271.44 813.00 271.18 C814.66 270.92 817.34 269.66 819.05 268.34 C820.77 267.02 821.65 265.55 823.31 263.29 C824.97 261.02 826.63 258.29 829.01 254.76 C831.40 251.23 834.78 246.08 837.61 242.13 C840.44 238.18 843.60 234.13 846.01 231.07 C848.41 228.02 848.87 227.60 852.06 223.81 C855.25 220.02 861.30 212.60 865.15 208.34 C868.99 204.07 870.78 201.97 875.11 198.23 C879.43 194.49 886.07 189.42 891.12 185.92 C896.17 182.42 901.38 179.44 905.42 177.23 C909.45 175.02 911.21 174.15 915.34 172.65 C919.46 171.15 925.10 169.15 930.18 168.23 C935.26 167.31 941.18 167.31 945.80 167.13 C950.43 166.94 954.01 166.94 957.91 167.13 C961.82 167.31 964.55 167.73 969.24 168.23 C973.93 168.73 979.53 169.13 986.04 170.13 C992.55 171.13 1004.59 173.55 1008.30 174.23" fill="none" stroke="#222" stroke-width="1.4"/>
<g fill="#fff" stroke-width="1.6" clip-path="url(#clipR)">
<circle cx="617.7" cy="137.9" r="2.95" stroke="#474a9c"/>
<circle cx="617.7" cy="163.2" r="2.95" stroke="#474a9c"/>
<circle cx="656.8" cy="128.4" r="2.95" stroke="#2f5cb6"/>
<circle cx="656.8" cy="163.2" r="2.95" stroke="#2f5cb6"/>
<circle cx="695.8" cy="112.7" r="2.95" stroke="#2f72c8"/>
<circle cx="695.8" cy="169.5" r="2.95" stroke="#2f72c8"/>
<circle cx="734.9" cy="109.5" r="2.95" stroke="#f06c2a"/>
<circle cx="734.9" cy="204.2" r="2.95" stroke="#f06c2a"/>
<circle cx="773.9" cy="103.2" r="2.95" stroke="#e6362e"/>
<circle cx="773.9" cy="235.8" r="2.95" stroke="#e6362e"/>
<circle cx="813.0" cy="100.0" r="2.95" stroke="#8c2d2d"/>
<circle cx="813.0" cy="270.6" r="2.95" stroke="#8c2d2d"/>
<circle cx="852.1" cy="103.2" r="2.95" stroke="#e6362e"/>
<circle cx="852.1" cy="223.2" r="2.95" stroke="#e6362e"/>
<circle cx="891.1" cy="106.3" r="2.95" stroke="#f06c2a"/>
<circle cx="891.1" cy="185.3" r="2.95" stroke="#f06c2a"/>
<circle cx="930.2" cy="115.8" r="2.95" stroke="#2f72c8"/>
<circle cx="930.2" cy="166.3" r="2.95" stroke="#2f72c8"/>
<circle cx="969.2" cy="125.3" r="2.95" stroke="#2f5cb6"/>
<circle cx="969.2" cy="169.5" r="2.95" stroke="#2f5cb6"/>
<circle cx="1008.3" cy="131.6" r="2.95" stroke="#474a9c"/>
<circle cx="1008.3" cy="172.7" r="2.95" stroke="#474a9c"/>
</g>
<rect x="617.7" y="33.7" width="390.6" height="315.8" fill="none" stroke="#303030" stroke-width="1.9"/>
<path d="M617.70 349.5 v6.6 M656.76 349.5 v6.6 M695.82 349.5 v6.6 M734.88 349.5 v6.6 M773.94 349.5 v6.6 M813.00 349.5 v6.6 M852.06 349.5 v6.6 M891.12 349.5 v6.6 M930.18 349.5 v6.6 M969.24 349.5 v6.6 M1008.30 349.5 v6.6 M617.7 349.50 h-6.6 M617.7 317.92 h-3.6 M617.7 286.34 h-6.6 M617.7 254.76 h-3.6 M617.7 223.18 h-6.6 M617.7 191.60 h-3.6 M617.7 160.02 h-6.6 M617.7 128.44 h-3.6 M617.7 96.86 h-6.6 M617.7 65.28 h-3.6 M617.7 33.70 h-6.6" stroke="#262626" stroke-width="1.4" fill="none"/>
<text x="618.8" y="373.8" font-size="19.6" text-anchor="middle">20</text>
<text x="657.9" y="373.8" font-size="19.6" text-anchor="middle">40</text>
<text x="696.9" y="373.8" font-size="19.6" text-anchor="middle">60</text>
<text x="736.0" y="373.8" font-size="19.6" text-anchor="middle">80</text>
<text x="775.0" y="373.8" font-size="19.6" text-anchor="middle">100</text>
<text x="814.1" y="373.8" font-size="19.6" text-anchor="middle">120</text>
<text x="853.2" y="373.8" font-size="19.6" text-anchor="middle">100</text>
<text x="892.2" y="373.8" font-size="19.6" text-anchor="middle">80</text>
<text x="931.3" y="373.8" font-size="19.6" text-anchor="middle">60</text>
<text x="970.3" y="373.8" font-size="19.6" text-anchor="middle">40</text>
<text x="1009.4" y="373.8" font-size="19.6" text-anchor="middle">20</text>
<text x="605.6" y="356.4" font-size="19.1" text-anchor="end">0</text>
<text x="604.0" y="293.2" font-size="19.1" text-anchor="end">20</text>
<text x="604.0" y="230.1" font-size="19.1" text-anchor="end">40</text>
<text x="604.0" y="166.9" font-size="19.1" text-anchor="end">60</text>
<text x="604.0" y="103.8" font-size="19.1" text-anchor="end">80</text>
<text x="604.0" y="40.6" font-size="19.1" text-anchor="end">100</text>
<text x="715.7" y="407" font-size="23.9">Temperature (<tspan font-size="16.2" dy="-7.4">o</tspan><tspan dy="7.4" dx="-0.4">C)</tspan></text>
<text transform="translate(567.3,196.5) rotate(-90)" font-size="23.9" text-anchor="middle">Proportion (%)</text>
<text transform="translate(530.5,18.2) scale(1.05,1)" font-size="28.3" font-weight="bold" style="fill:#1a1212;stroke:#1a1212">e</text>
<text x="633.2" y="23.4" font-size="20.9">Heat</text>
<text x="942.3" y="26.3" font-size="21.2">Cool</text>
<text x="758.8" y="76.6" font-size="21.2">Free chain</text>
<text x="738.9" y="168.6" font-size="21.15">Dangling chain</text>
<text x="719.7" y="313.3" font-size="21.2">Cross-linking chain</text>
<path d="M688.4 18.1 H797" stroke="url(#hc1)" stroke-width="1.9" fill="none"/>
<path d="M802.6 18.1 L794 14.3 L795.8 18.1 L794 21.9 Z" fill="#e02a2c"/>
<path d="M822.8 18.1 H931" stroke="url(#hc2)" stroke-width="1.9" fill="none"/>
<path d="M936.4 18.1 L927.8 14.3 L929.6 18.1 L927.8 21.9 Z" fill="#2f9be0"/>
<path d="M812.8 10.5 V43.2" stroke="#262626" stroke-width="1.5" fill="none"/>
</svg></body></html>
